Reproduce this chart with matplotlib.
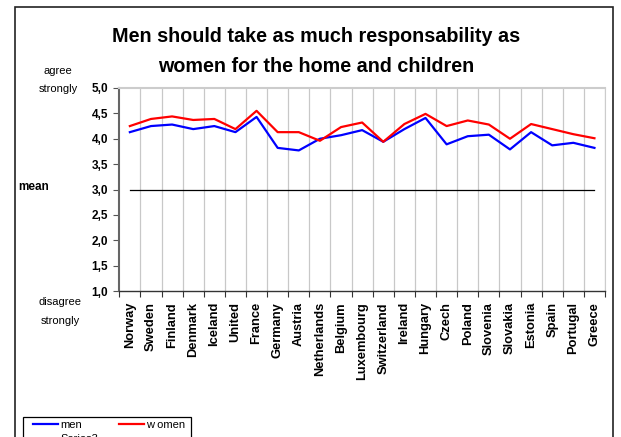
import numpy as np
import matplotlib
matplotlib.use("Agg")
import matplotlib.pyplot as plt
from matplotlib.patches import Rectangle
from matplotlib.lines import Line2D

plt.rcParams['font.family'] = ['Liberation Sans', 'DejaVu Sans']

countries = ["Norway", "Sweden", "Finland", "Denmark", "Iceland", "United",
             "France", "Germany", "Austria", "Netherlands", "Belgium",
             "Luxembourg", "Switzerland", "Ireland", "Hungary", "Czech",
             "Poland", "Slovenia", "Slovakia", "Estonia", "Spain",
             "Portugal", "Greece"]
men = [4.13, 4.25, 4.28, 4.19, 4.25, 4.13, 4.43, 3.82, 3.77, 4.00, 4.07,
       4.17, 3.94, 4.19, 4.41, 3.89, 4.05, 4.08, 3.79, 4.13, 3.87, 3.92, 3.82]
women = [4.25, 4.39, 4.44, 4.37, 4.39, 4.19, 4.55, 4.13, 4.13, 3.96, 4.23,
         4.32, 3.94, 4.29, 4.49, 4.25, 4.36, 4.28, 4.00, 4.29, 4.19, 4.09, 4.01]
mean_level = 3.0
yticks = [1.0, 1.5, 2.0, 2.5, 3.0, 3.5, 4.0, 4.5, 5.0]

W, H = 621, 437
fig = plt.figure(figsize=(W / 100, H / 100), dpi=100)
ax = fig.add_axes([119.3 / W, 1 - 291 / H, (605 - 119.3) / W, (291 - 88) / H])

x = np.arange(len(countries))
ax.plot(x, [mean_level] * len(x), color='black', lw=0.9)
ax.plot(x, men, color='#0000ff', lw=1.6)
ax.plot(x, women, color='#ff0000', lw=1.6)

ax.set_xlim(-0.5, len(x) - 0.5)
ax.set_ylim(1.0, 5.0)

# category boundaries carry the ticks and vertical grid
bounds = np.arange(len(x) + 1) - 0.5
ax.set_xticks(bounds)
ax.set_xticklabels([])
ax.set_xticks(x, minor=True)
ax.set_xticklabels(countries, minor=True, rotation=90, fontsize=9.3,
                   fontweight='bold', va='top', ha='center')
ax.tick_params(axis='x', which='minor', length=0, pad=8)
ax.tick_params(axis='x', which='major', length=4, direction='out', color='#333333')
for b in bounds[1:]:
    ax.axvline(b, color='#c8c8c8', lw=0.9, zorder=0)

ax.set_yticks(yticks)
ax.set_yticklabels([f"{v:.1f}".replace('.', ',') for v in yticks],
                   fontsize=8.5, fontweight='bold')
ax.tick_params(axis='y', length=4, direction='out', color='#555555', pad=4)

ax.spines['left'].set_color('#666666')
ax.spines['left'].set_linewidth(1.5)
ax.spines['bottom'].set_color('#333333')
ax.spines['bottom'].set_linewidth(1.0)
ax.spines['top'].set_color('#cccccc')
ax.spines['top'].set_linewidth(1.5)
ax.spines['right'].set_color('#cccccc')

fig.text(316 / W, 1 - 37 / H, "Men should take as much responsability as",
         ha='center', va='center', fontsize=14.2, fontweight='bold')
fig.text(316 / W, 1 - 67 / H, "women for the home and children",
         ha='center', va='center', fontsize=14.2, fontweight='bold')

fig.text(58 / W, 1 - 71 / H, "agree", ha='center', va='center', fontsize=8)
fig.text(58 / W, 1 - 89 / H, "strongly", ha='center', va='center', fontsize=8)
fig.text(18 / W, 1 - 187 / H, "mean", ha='left', va='center', fontsize=8.5,
         fontweight='bold')
fig.text(60 / W, 1 - 302 / H, "disagree", ha='center', va='center', fontsize=8)
fig.text(60 / W, 1 - 321 / H, "strongly", ha='center', va='center', fontsize=8)

# outer chart frame, runs off the bottom edge
fig.patches.append(Rectangle((15 / W, -0.2), (613.3 - 15) / W, 1.2 - 7 / H,
                             transform=fig.transFigure, fill=False,
                             edgecolor='#222222', lw=1.2))

# legend box drawn separately so the inner padding can differ per side
fig.patches.append(Rectangle((22.7 / W, -0.1), (191 - 22.7) / W,
                             0.1 + 1 - 416.7 / H, transform=fig.transFigure,
                             fill=False, edgecolor='black', lw=0.9))
handles = [Line2D([], [], color='#0000ff', lw=1.6),
           Line2D([], [], color='black', lw=0.9),
           Line2D([], [], color='#ff0000', lw=1.6)]
leg = fig.legend(handles, ['men', 'Series3', 'w omen'], ncol=2,
                 loc='upper left', bbox_to_anchor=(33 / W, 1 - 419.5 / H),
                 fontsize=8, frameon=False, handlelength=2.25,
                 handletextpad=0.2, columnspacing=1.9, borderpad=0,
                 labelspacing=0.45, borderaxespad=0)

fig.savefig("out.png", dpi=100)
